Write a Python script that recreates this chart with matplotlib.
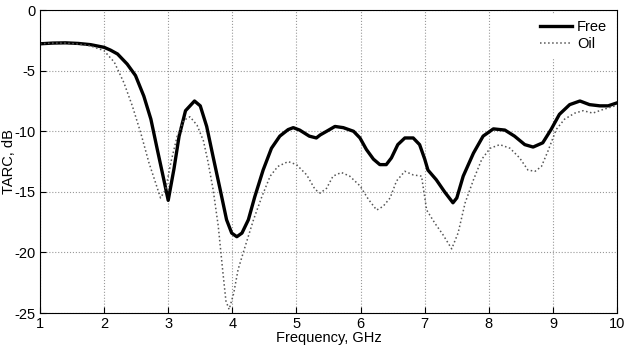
import matplotlib
matplotlib.use("Agg")
import matplotlib.pyplot as plt

plt.rcParams['font.family'] = ['Liberation Sans', 'DejaVu Sans']
plt.rcParams['axes.unicode_minus'] = False

# Free-space TARC
f_free = [1.0, 1.2, 1.4, 1.6, 1.79, 2.0, 2.1, 2.21, 2.36, 2.49, 2.62, 2.73, 2.83, 2.93, 3.0,
          3.09, 3.17, 3.27, 3.41, 3.5, 3.6, 3.7, 3.81, 3.91, 3.99, 4.07, 4.15, 4.25, 4.35,
          4.48, 4.61, 4.74, 4.87, 4.95, 5.05, 5.2, 5.31, 5.37, 5.47, 5.6, 5.73, 5.89, 5.99,
          6.09, 6.2, 6.3, 6.4, 6.48, 6.58, 6.69, 6.82, 6.92, 7.0, 7.05, 7.18, 7.31, 7.44,
          7.5, 7.6, 7.76, 7.91, 8.07, 8.25, 8.4, 8.56, 8.69, 8.84, 8.97, 9.1, 9.26, 9.42,
          9.57, 9.73, 9.86, 10.0]
tarc_free = [-2.78, -2.72, -2.7, -2.75, -2.85, -3.07, -3.3, -3.62, -4.45, -5.4, -7.1, -9.0, -11.5, -13.95, -15.7,
             -13.1, -10.4, -8.3, -7.5, -7.9, -9.6, -12.1, -14.8, -17.3, -18.4, -18.7, -18.4, -17.3, -15.4,
             -13.2, -11.4, -10.4, -9.86, -9.7, -9.9, -10.4, -10.55, -10.3, -10.0, -9.6, -9.7, -10.0, -10.55,
             -11.5, -12.3, -12.75, -12.75, -12.2, -11.1, -10.55, -10.55, -11.1, -12.3, -13.2, -14.0, -15.0, -15.9,
             -15.5, -13.7, -11.8, -10.4, -9.8, -9.9, -10.4, -11.1, -11.3, -10.95, -9.85, -8.6, -7.8, -7.5,
             -7.8, -7.9, -7.9, -7.65]

# Oil-immersed TARC
f_oil = [1.0, 1.2, 1.4, 1.6, 1.79, 2.0, 2.16, 2.31, 2.44, 2.57, 2.7, 2.8, 2.88, 2.96, 3.04,
         3.14, 3.24, 3.34, 3.45, 3.55, 3.62, 3.7, 3.78, 3.85, 3.9, 3.95, 4.02, 4.09, 4.2,
         4.33, 4.46, 4.59, 4.71, 4.87, 5.0, 5.16, 5.29, 5.37, 5.47, 5.57, 5.7, 5.83, 5.99,
         6.12, 6.25, 6.35, 6.46, 6.56, 6.69, 6.82, 6.95, 7.03, 7.16, 7.28, 7.42, 7.52, 7.63,
         7.76, 7.89, 8.02, 8.17, 8.33, 8.48, 8.61, 8.72, 8.82, 8.92, 9.05, 9.18, 9.34, 9.47,
         9.62, 9.78, 10.0]
tarc_oil = [-2.78, -2.72, -2.72, -2.8, -2.95, -3.35, -4.3, -6.0, -7.9, -10.1, -12.6, -14.2, -15.5, -14.8, -12.6,
            -10.4, -9.1, -8.8, -9.5, -10.8, -12.5, -14.8, -17.8, -21.5, -24.0, -24.7, -23.4, -21.4, -19.5,
            -17.3, -15.4, -13.7, -12.9, -12.5, -12.75, -13.6, -14.8, -15.1, -14.7, -13.7, -13.4, -13.7, -14.5,
            -15.6, -16.5, -16.2, -15.5, -14.1, -13.3, -13.6, -13.7, -16.5, -17.6, -18.5, -19.7, -18.4, -15.9,
            -14.0, -12.3, -11.4, -11.1, -11.4, -12.2, -13.2, -13.3, -12.9, -11.65, -9.85, -9.0, -8.5, -8.3,
            -8.5, -8.2, -7.85]

fig = plt.figure(figsize=(6.24, 3.49), dpi=100)
ax = fig.add_axes([0.064, 0.103, 0.925, 0.868])

ax.plot(f_free, tarc_free, color='black', linewidth=2.4, solid_joinstyle='round', label='Free')
ax.plot(f_oil, tarc_oil, color='#555555', linewidth=1.1, linestyle=':', label='Oil')

ax.set_xlim(1, 10)
ax.set_ylim(-25, 0)
ax.set_xticks(range(1, 11))
ax.set_yticks([-25, -20, -15, -10, -5, 0])
ax.grid(True, color='#999999', linestyle=':', linewidth=0.8)
ax.tick_params(direction='in', length=4, labelsize=10.5, pad=3)
for s in ax.spines.values():
    s.set_linewidth(0.8)

ax.set_xlabel('Frequency, GHz', fontsize=10.5, labelpad=0)
ax.set_ylabel('TARC, dB', fontsize=10.5)
ax.yaxis.set_label_coords(-0.042, 0.5)

leg = ax.legend(loc='upper right', frameon=True, fontsize=10.5, handlelength=2.2,
                handletextpad=0.3, labelspacing=0.2, borderaxespad=0.3, fancybox=False)
leg.get_frame().set_edgecolor('white')
leg.get_frame().set_alpha(1)

fig.savefig('out.png', dpi=100)
